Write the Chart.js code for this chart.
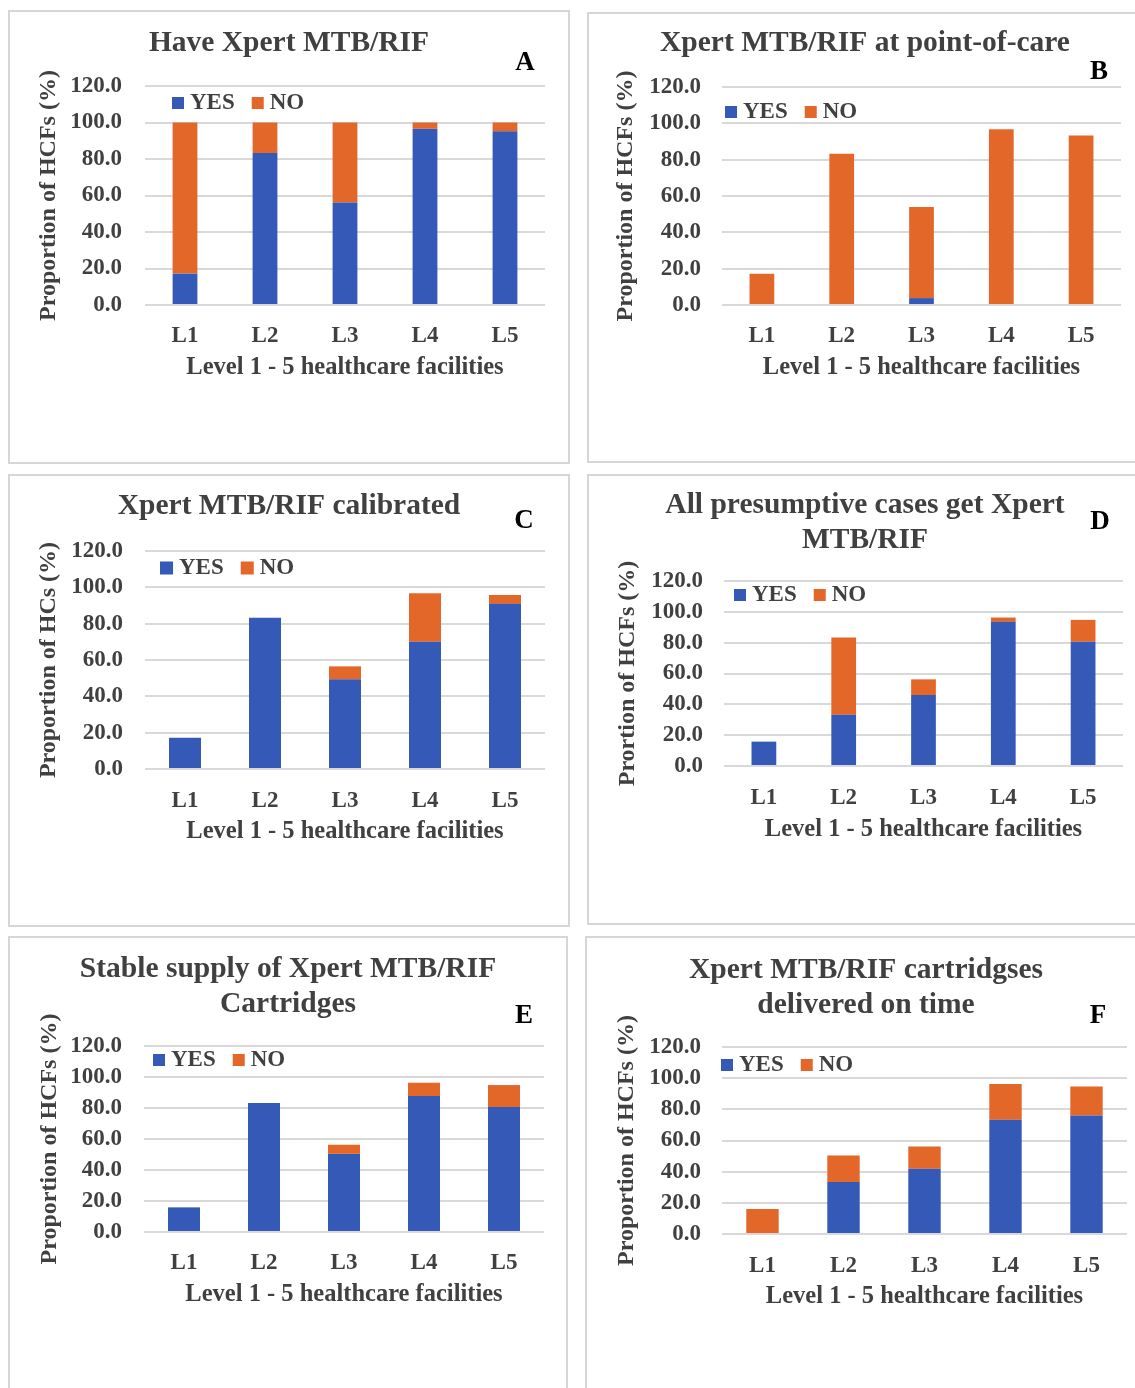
<!DOCTYPE html>
<html>
<head>
<meta charset="utf-8">
<script src="https://cdn.jsdelivr.net/npm/chart.js@4.4.0/dist/chart.umd.min.js"></script>
<style>
  body { margin: 0; background: #fff; }
  #page { position: relative; width: 1135px; height: 1388px; overflow: hidden; }
  .panel { position: absolute; box-sizing: border-box; border: 2px solid #d6d6d6; }
  .panel canvas { display: block; }
</style>
</head>
<body>
<div id="page"></div>
<script>
const levels = ['L1', 'L2', 'L3', 'L4', 'L5'];
const yTicks = [0, 20, 40, 60, 80, 100, 120];
const seriesNames = ['YES', 'NO'];

const yesA = [17.2, 83.3, 56.2, 96.6, 95.2];
const noA  = [82.8, 16.7, 43.8, 3.4, 4.8];
const yesB = [0, 0, 3.8, 0, 0];
const noB  = [17.2, 83.3, 50.2, 96.7, 93.3];
const yesC = [17.2, 83.3, 49.4, 70.0, 90.9];
const noC  = [0, 0, 7.1, 26.7, 4.9];
const yesD = [15.8, 33.3, 46.0, 93.5, 80.6];
const noD  = [0, 50.0, 10.2, 2.8, 14.2];
const yesE = [15.9, 83.3, 50.4, 87.7, 80.6];
const noE  = [0, 0, 5.9, 8.6, 14.2];
const yesF = [0, 33.3, 41.8, 73.3, 76.1];
const noF  = [16.0, 17.0, 14.3, 22.9, 18.6];

const titles = [
  'Have Xpert MTB/RIF',
  'Xpert MTB/RIF at point-of-care',
  'Xpert MTB/RIF calibrated',
  ['All presumptive cases get Xpert', 'MTB/RIF'],
  ['Stable supply of Xpert MTB/RIF', 'Cartridges'],
  ['Xpert MTB/RIF cartridgses', 'delivered on time']
];
const yTitles = [
  'Proportion of HCFs (%)',
  'Proportion of HCFs (%)',
  'Proportion of HCs (%)',
  'Prortion of HCFs (%)',
  'Proportion of HCFs (%)',
  'Proportion of HCFs (%)'
];
const letters = ['A', 'B', 'C', 'D', 'E', 'F'];
const xTitle = 'Level 1 - 5 healthcare facilities';

const BLUE = '#3559b7', ORANGE = '#e4672a', TEXT = '#404040', GRID = '#d9d9d9';
const FONT = '"Liberation Serif", "Times New Roman", serif';

// where each panel sits on the page (page pixels)
const frames = [
  { box: [8, 10, 562, 454],  plot: [145, 86, 545, 305],   titleY: 43,  tickRight: 122, yTitleX: 49,  xLabelY: 335,  xTitleY: 368,  legend: [172, 103],  letter: [525, 63],    bar: 0.31, sq: 12 },
  { box: [587, 12, 556, 451], plot: [722, 87, 1121, 305],  titleY: 43,  tickRight: 701, yTitleX: 626, xLabelY: 335,  xTitleY: 368,  legend: [725, 112],  letter: [1099, 72],   bar: 0.31, sq: 12 },
  { box: [8, 474, 562, 453], plot: [145, 551, 545, 769],  titleY: 506, tickRight: 123, yTitleX: 49,  xLabelY: 800,  xTitleY: 832,  legend: [160, 568],  letter: [524, 521],   bar: 0.40, sq: 13 },
  { box: [587, 474, 556, 451], plot: [724, 581, 1123, 766], titleY: 505, tickRight: 703, yTitleX: 628, xLabelY: 797,  xTitleY: 830,  legend: [734, 595],  letter: [1100, 522],  bar: 0.31, sq: 12 },
  { box: [8, 936, 560, 460], plot: [144, 1046, 544, 1232], titleY: 969, tickRight: 122, yTitleX: 50,  xLabelY: 1262, xTitleY: 1295, legend: [153, 1060], letter: [524, 1016],  bar: 0.40, sq: 12 },
  { box: [585, 936, 562, 460], plot: [722, 1047, 1127, 1234], titleY: 970, tickRight: 701, yTitleX: 627, xLabelY: 1265, xTitleY: 1297, legend: [721, 1065], letter: [1098, 1016], bar: 0.40, sq: 12 }
];

// legend inside the plot + the panel letter
const panelExtras = {
  id: 'panelExtras',
  afterDraw(chart, args, o) {
    const ctx = chart.ctx;
    ctx.save();
    ctx.textBaseline = 'middle';
    ctx.textAlign = 'left';
    ctx.font = 'bold 23px ' + FONT;
    let x = o.lx, y = o.ly;
    chart.data.datasets.forEach(ds => {
      ctx.fillStyle = ds.backgroundColor;
      ctx.fillRect(x, y - o.sq / 2, o.sq, o.sq);
      x += o.sq + 6;
      ctx.fillStyle = TEXT;
      ctx.fillText(ds.label, x, y);
      x += ctx.measureText(ds.label).width + 17;
    });
    ctx.font = 'bold 27px ' + FONT;
    ctx.fillStyle = '#000';
    ctx.textAlign = 'center';
    ctx.fillText(o.letter, o.tx, o.ty);
    ctx.restore();
  }
};

function makePanel(i, yes, no) {
  const f = frames[i];
  const [bx, by, bw, bh] = f.box;
  const div = document.createElement('div');
  div.className = 'panel';
  div.style.cssText = `left:${bx}px;top:${by}px;width:${bw}px;height:${bh}px`;
  const cw = bw - 4, ch = bh - 4, ox = bx + 2, oy = by + 2;
  const canvas = document.createElement('canvas');
  canvas.width = cw; canvas.height = ch;
  canvas.style.width = cw + 'px'; canvas.style.height = ch + 'px';
  div.appendChild(canvas);
  document.getElementById('page').appendChild(div);

  const left = f.plot[0] - ox, top = f.plot[1] - oy;
  const right = f.plot[2] - ox, bottom = f.plot[3] - oy;
  const side = cw - right; // same padding both sides keeps the title centred on the panel

  const tSize = 29.5, tLh = 1.2, tLine = tSize * tLh;
  const gap = 35.5;
  const nLines = Array.isArray(titles[i]) ? titles[i].length : 1;
  const lh = nLines > 1 ? gap / tSize : tLh;
  const tPadTop = f.titleY - oy - tSize * lh / 2;
  const tPadBottom = top - tPadTop - nLines * tSize * lh;

  const xH = 90;
  const axSize = 24.5, axLine = axSize * 1.2, tickLine = 23 * 1.2;

  new Chart(canvas, {
    type: 'bar',
    data: {
      labels: levels,
      datasets: [
        { label: seriesNames[0], data: yes, backgroundColor: BLUE, barPercentage: f.bar, categoryPercentage: 1 },
        { label: seriesNames[1], data: no, backgroundColor: ORANGE, barPercentage: f.bar, categoryPercentage: 1 }
      ]
    },
    options: {
      responsive: false,
      animation: false,
      layout: { padding: { left: side, top: 0, right: side, bottom: ch - bottom - xH } },
      plugins: {
        legend: { display: false },
        tooltip: { enabled: false },
        title: {
          display: true,
          text: titles[i],
          color: TEXT,
          font: { family: FONT, size: tSize, weight: 'bold', lineHeight: lh },
          padding: { top: tPadTop, bottom: tPadBottom }
        },
        panelExtras: {
          lx: f.legend[0] - ox, ly: f.legend[1] - oy, sq: f.sq,
          letter: letters[i], tx: f.letter[0] - ox, ty: f.letter[1] - oy
        }
      },
      scales: {
        x: {
          stacked: true,
          grid: { display: false },
          border: { display: false },
          ticks: { color: TEXT, font: { family: FONT, size: 23, weight: 'bold' }, padding: f.xLabelY - f.plot[3] - tickLine / 2 - 7 },
          title: {
            display: true, text: xTitle, color: TEXT,
            font: { family: FONT, size: axSize, weight: 'bold' },
            padding: { top: 0, bottom: bottom + xH - (f.xTitleY - oy) - axLine / 2 }
          },
          afterFit: s => { s.height = xH; }
        },
        y: {
          stacked: true,
          min: 0, max: 120,
          afterBuildTicks: s => { s.ticks = yTicks.map(v => ({ value: v })); },
          grid: { color: GRID, lineWidth: 2, drawTicks: false },
          border: { display: false },
          ticks: {
            color: TEXT, font: { family: FONT, size: 23, weight: 'bold' },
            padding: f.plot[0] - f.tickRight,
            callback: v => Number(v).toFixed(1)
          },
          title: {
            display: true, text: yTitles[i], color: TEXT,
            font: { family: FONT, size: 24, weight: 'bold' },
            padding: { top: Math.max(0, f.yTitleX - ox - side - 24 * 1.2 / 2), bottom: 0 }
          },
          afterFit: s => { s.width = left - side; }
        }
      }
    },
    plugins: [panelExtras]
  });
}

makePanel(0, yesA, noA);
makePanel(1, yesB, noB);
makePanel(2, yesC, noC);
makePanel(3, yesD, noD);
makePanel(4, yesE, noE);
makePanel(5, yesF, noF);
</script>
</body>
</html>
